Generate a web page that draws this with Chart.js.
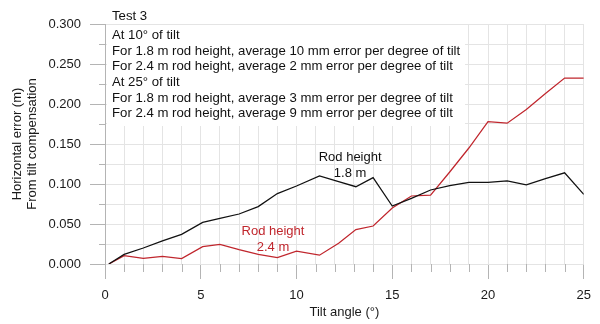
<!DOCTYPE html>
<html>
<head>
<meta charset="utf-8">
<script src="https://cdn.jsdelivr.net/npm/chart.js@4/dist/chart.umd.min.js"></script>
<style>
  html, body { margin: 0; padding: 0; background: #fff; }
  #wrap { width: 600px; height: 324px; }
</style>
</head>
<body>
<div id="wrap"><canvas id="tiltChart"></canvas></div>
<script>
// tilt angle of the rod (degrees)
const tiltAngles = [0.2, 1, 2, 3, 4, 5.1, 6, 7, 8, 9, 10, 11.2, 12.2, 13.1, 14, 15, 16, 17, 18, 19, 20, 21, 22, 23, 24, 25];

// horizontal error (m) per rod height
const errorRod18 = [0, 0.012, 0.020, 0.029, 0.037, 0.052, 0.057, 0.0625, 0.0717, 0.088, 0.0975, 0.110, 0.103, 0.0966, 0.108, 0.0725, 0.082, 0.0925, 0.098, 0.102, 0.102, 0.104, 0.099, 0.1067, 0.114, 0.087];
const errorRod24 = [0, 0.0104, 0.007, 0.0096, 0.0067, 0.0217, 0.0246, 0.018, 0.012, 0.008, 0.016, 0.011, 0.026, 0.043, 0.0475, 0.070, 0.085, 0.086, 0.115, 0.145, 0.178, 0.176, 0.193, 0.213, 0.2325, 0.2325];

const seriesLabels = ['Rod height 1.8 m', 'Rod height 2.4 m'];

const noteLines = [
  'At 10\u00b0 of tilt',
  'For 1.8 m rod height, average 10 mm error per degree of tilt',
  'For 2.4 m rod height, average 2 mm error per degree of tilt',
  'At 25\u00b0 of tilt',
  'For 1.8 m rod height, average 3 mm error per degree of tilt',
  'For 2.4 m rod height, average 9 mm error per degree of tilt'
];

const TiltChart = (() => {

  const FONT = '"Liberation Sans", Arial, sans-serif';
  const BLACK = '#111111';
  const RED = '#c0262d';
  const GRID = '#e4e4e4';
  const TICK = '#b4b4b4';

  const isMajorX = v => Math.abs(v % 5) < 1e-9;
  const isMajorY = v => Math.round(v * 1000) % 50 === 0;

  const toPoints = values => tiltAngles.map((x, i) => ({ x: x, y: values[i] }));

  // short tick marks for the minor steps, the long ones come from the grid
  const minorTicks = {
    id: 'minorTicks',
    afterDraw(chart) {
      const { ctx, chartArea, scales } = chart;
      ctx.save();
      ctx.strokeStyle = TICK;
      ctx.lineWidth = 1;
      ctx.beginPath();
      scales.x.ticks.forEach(t => {
        if (isMajorX(t.value)) return;
        const px = Math.round(scales.x.getPixelForValue(t.value)) + 0.5;
        ctx.moveTo(px, chartArea.bottom);
        ctx.lineTo(px, chartArea.bottom + 8);
      });
      scales.y.ticks.forEach(t => {
        if (isMajorY(t.value)) return;
        const py = Math.round(scales.y.getPixelForValue(t.value)) + 0.5;
        ctx.moveTo(chartArea.left, py);
        ctx.lineTo(chartArea.left - 6, py);
      });
      ctx.stroke();
      ctx.restore();
    }
  };

  // notes box in the upper left and the labels next to each line
  const notes = {
    id: 'notes',
    beforeDatasetsDraw(chart) {
      const { ctx, chartArea } = chart;
      ctx.save();
      ctx.fillStyle = '#ffffff';
      ctx.fillRect(chartArea.left + 2, chartArea.top + 1, 358, 101);
      ctx.restore();
    },
    afterDatasetsDraw(chart) {
      const { ctx, chartArea, scales } = chart;
      ctx.save();
      ctx.font = '13.2px ' + FONT;
      ctx.textBaseline = 'middle';
      ctx.textAlign = 'left';
      ctx.fillStyle = BLACK;
      const x0 = chartArea.left + 7;
      ctx.fillText('Test 3', x0, 16);
      noteLines.forEach((line, i) => {
        ctx.fillText(line, x0, 35.5 + i * 15.6);
      });

      ctx.font = '13px ' + FONT;
      ctx.textAlign = 'center';
      const bx = scales.x.getPixelForValue(12.8);
      const by = scales.y.getPixelForValue(0.1334);
      ctx.fillText('Rod height', bx, by);
      ctx.fillText('1.8 m', bx, by + 16);

      ctx.fillStyle = RED;
      const rx = scales.x.getPixelForValue(8.77);
      const ry = scales.y.getPixelForValue(0.0404);
      ctx.fillText('Rod height', rx, ry);
      ctx.fillText('2.4 m', rx, ry + 15.6);
      ctx.restore();
    }
  };

  const _init = (canvasId) => {
    Chart.defaults.font.family = FONT;
    Chart.defaults.font.size = 13;
    Chart.defaults.color = '#1a1a1a';

    const ctx = document.getElementById(canvasId).getContext('2d');
    return new Chart(ctx, {
      type: 'line',
      data: {
        datasets: [
          {
            label: seriesLabels[0],
            data: toPoints(errorRod18),
            borderColor: BLACK,
            borderWidth: 1.25,
            pointRadius: 0,
            tension: 0
          },
          {
            label: seriesLabels[1],
            data: toPoints(errorRod24),
            borderColor: RED,
            borderWidth: 1.25,
            pointRadius: 0,
            tension: 0
          }
        ]
      },
      options: {
        responsive: true,
        maintainAspectRatio: false,
        animation: false,
        layout: { padding: { top: 24, right: 16, left: 0, bottom: 0 } },
        plugins: {
          legend: { display: false },
          tooltip: { enabled: false }
        },
        scales: {
          x: {
            type: 'linear',
            min: 0,
            max: 25,
            afterFit: s => { s.height = 60; },
            border: { display: false },
            grid: {
              color: GRID,
              tickLength: 15,
              tickColor: c => isMajorX(c.tick.value) ? TICK : 'rgba(0,0,0,0)'
            },
            ticks: {
              stepSize: 1,
              autoSkip: false,
              maxRotation: 0,
              padding: 9,
              color: '#1a1a1a',
              callback: v => isMajorX(v) ? String(v) : ''
            },
            title: {
              display: true,
              text: 'Tilt angle (\u00b0)',
              color: '#1a1a1a',
              padding: { top: 0, bottom: 4 }
            }
          },
          y: {
            min: 0,
            max: 0.3,
            afterFit: s => { s.width = 105; },
            border: { display: true, color: TICK },
            grid: {
              color: GRID,
              tickLength: 15,
              tickColor: c => isMajorY(c.tick.value) ? TICK : 'rgba(0,0,0,0)'
            },
            ticks: {
              stepSize: 0.025,
              autoSkip: false,
              padding: 9,
              color: '#1a1a1a',
              callback: v => isMajorY(v) ? v.toFixed(3) : ''
            },
            title: {
              display: true,
              text: ['Horizontal error (m)', 'From tilt compensation'],
              color: '#1a1a1a',
              font: { size: 13, lineHeight: 1.13 },
              padding: { top: 10, bottom: 0 }
            }
          }
        }
      },
      plugins: [minorTicks, notes]
    });
  };

  return {
    init: _init
  };

})();

TiltChart.init('tiltChart');
</script>
</body>
</html>
